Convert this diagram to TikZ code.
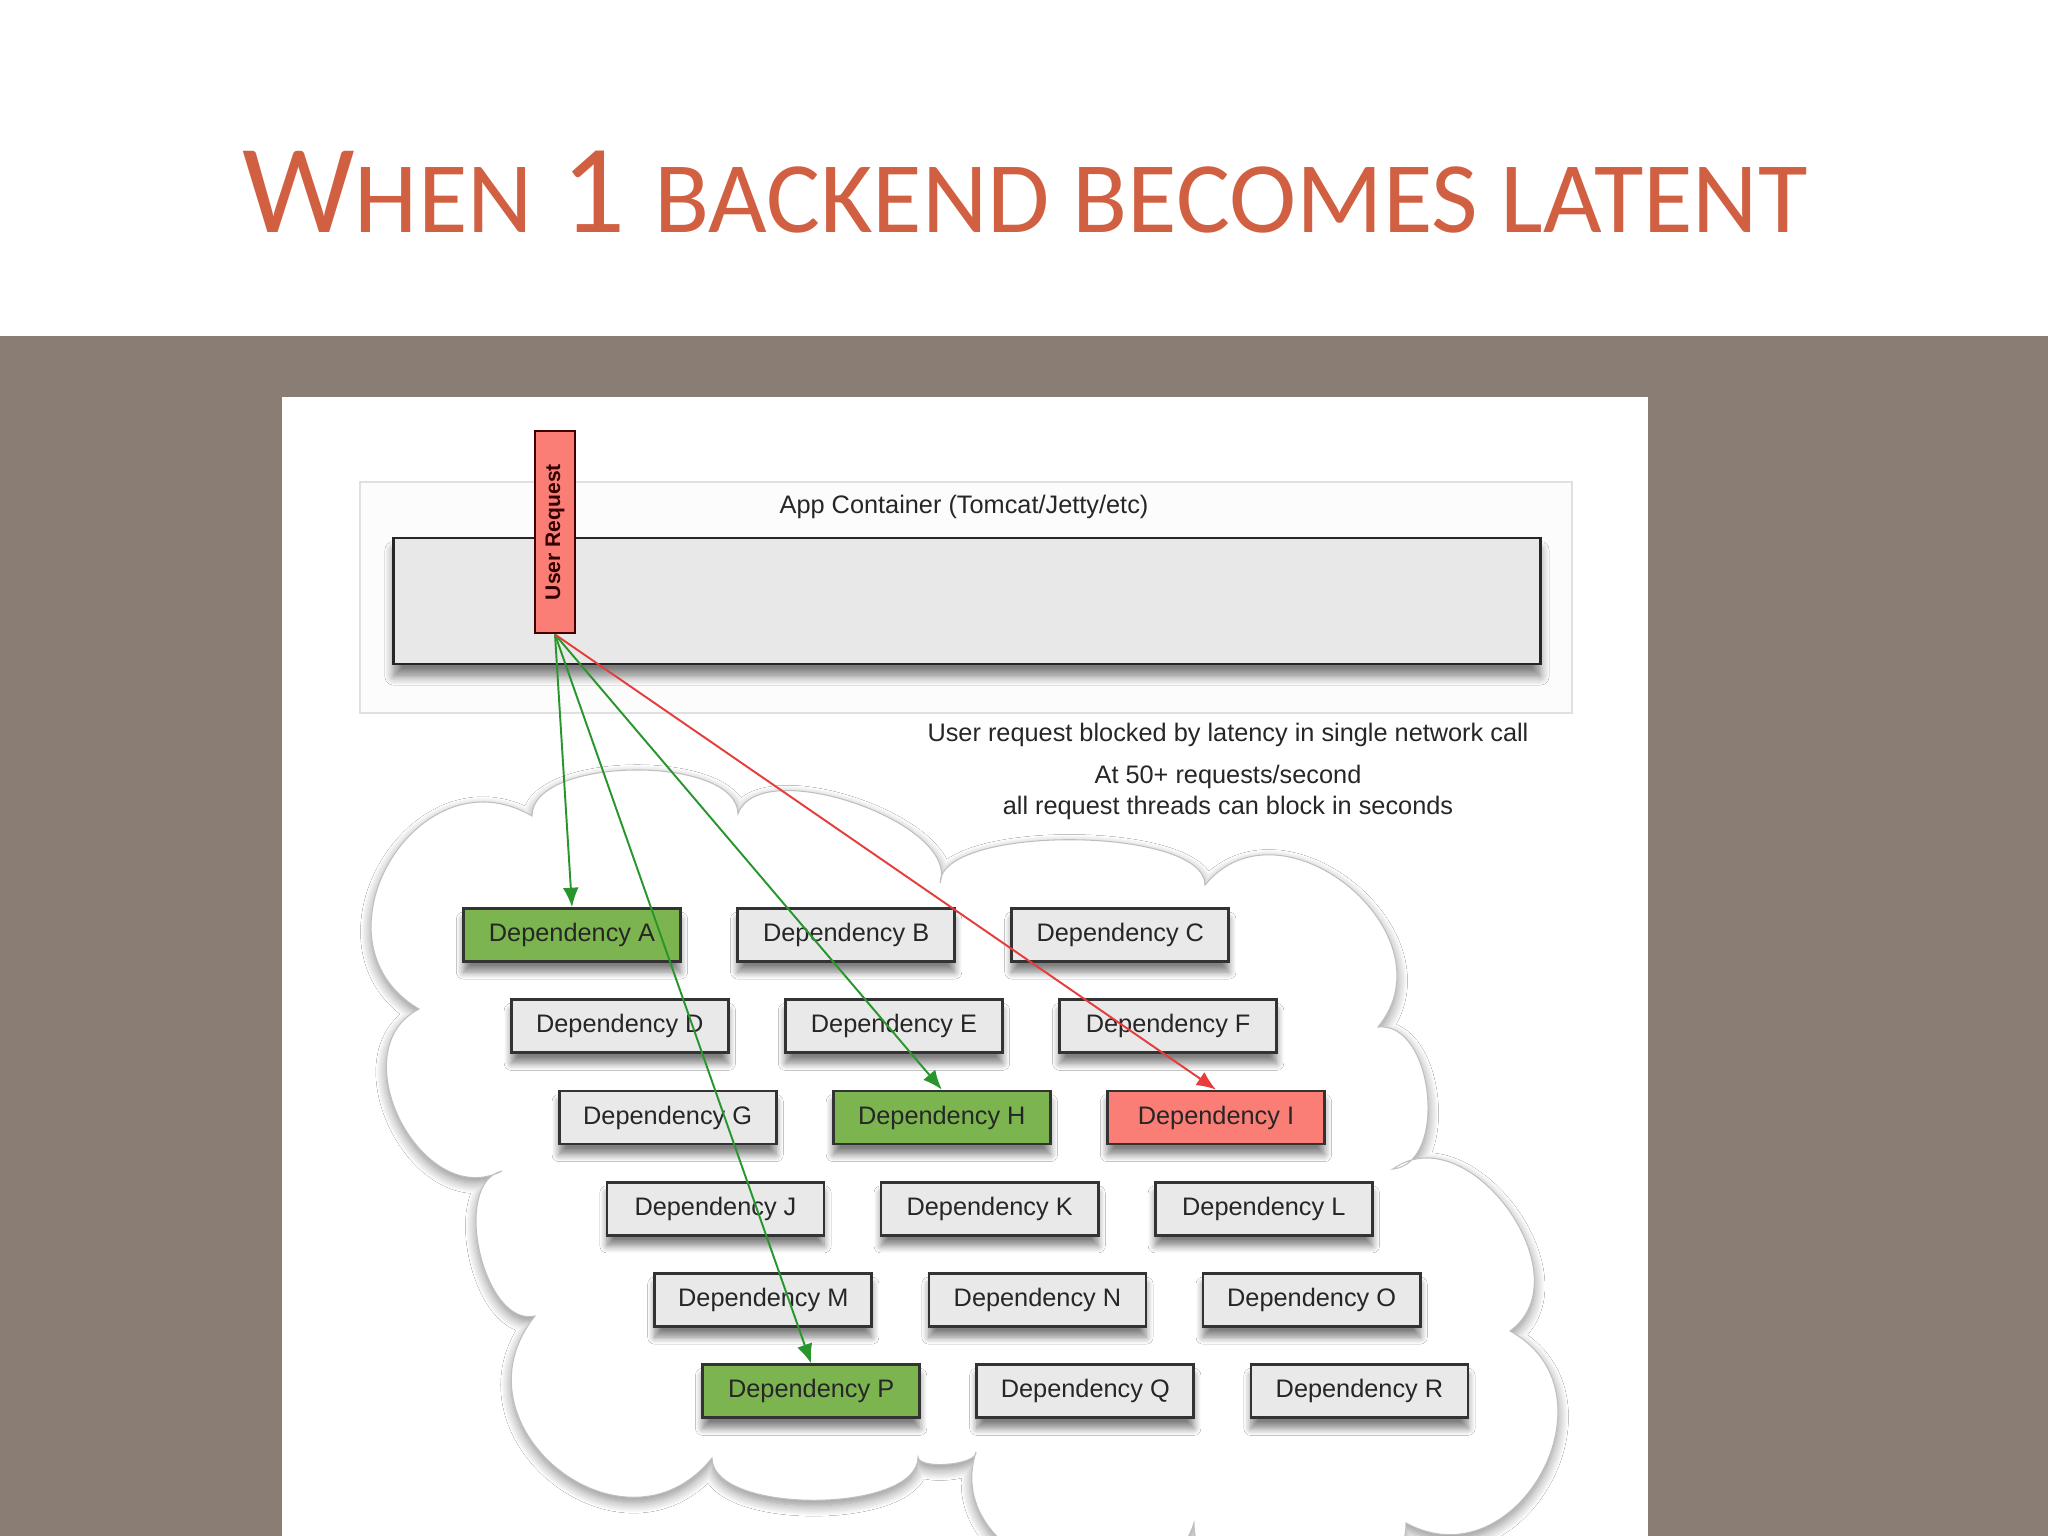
\documentclass[tikz,border=0pt]{standalone}
\usepackage{fontspec}
\setmainfont{Liberation Sans}
\newfontfamily\titlefont{Carlito}
\usetikzlibrary{arrows.meta,positioning,calc,shadows.blur}

\definecolor{slidegray}{RGB}{138,125,115}
\definecolor{titlered}{RGB}{209,96,66}
\definecolor{boxgray}{RGB}{233,233,233}
\definecolor{depgreen}{RGB}{124,181,80}
\definecolor{depred}{RGB}{250,125,118}
\definecolor{okline}{RGB}{40,150,45}
\definecolor{badline}{RGB}{230,60,60}

\begin{document}
\begin{tikzpicture}[x=0.01cm,y=-0.01cm,
  node distance=0.912cm and 2.74cm, on grid,
  lbl/.style={font=\fontsize{7.2}{8.8}\selectfont,text=black!85},
  dep/.style={draw=black!80,line width=0.8pt,fill=boxgray,minimum width=2.17cm,minimum height=0.53cm,inner sep=0pt,
    font=\fontsize{7.2}{8}\selectfont,text=black!85,
    blur shadow={shadow xshift=0pt,shadow yshift=-3pt,shadow blur radius=2pt,shadow blur steps=8,shadow opacity=50}},
  ok/.style={dep,fill=depgreen},
  hit/.style={dep,fill=depred},
  call/.style={-{Latex[length=5.5pt,width=4.5pt]},line width=0.55pt,draw=okline},
  lobe/.style={to path={.. controls ($(\tikztostart)!#1!90:(\tikztotarget)$) and ($(\tikztotarget)!#1!-90:(\tikztostart)$) .. (\tikztotarget)}}]
  \useasboundingbox (0,0) rectangle (2048,1536);
  % slide
  \fill[white] (0,0) rectangle (2048,336);
  \fill[slidegray] (0,336) rectangle (2048,1536);
  \fill[white] (282,397) rectangle (1648,1536);
  \node[font=\titlefont\fontsize{36}{40}\selectfont,text=titlered,anchor=base] (title) at (1025,232)
    {W{\fontsize{28.8}{30}\selectfont HEN} 1 {\fontsize{28.8}{30}\selectfont BACKEND BECOMES LATENT}};

  % app container
  \node[draw=black!12,fill=black!1,line width=0.6pt,minimum width=12.12cm,minimum height=2.31cm] (cont) at (966,597.5) {};
  \node[draw=black!85,fill=black!9,line width=0.8pt,minimum width=11.46cm,minimum height=1.26cm,
    blur shadow={shadow xshift=0pt,shadow yshift=-3.5pt,shadow blur radius=2.5pt,shadow blur steps=8,shadow opacity=50}] (app) at (967,601) {};
  \node[lbl] (apptxt) at (964,507) {App Container (Tomcat/Jetty/etc)};

  % dependency cloud
  \path[fill=white,draw=black!25,line width=0.3pt,
    blur shadow={shadow xshift=0pt,shadow yshift=-1.5pt,shadow blur radius=3pt,shadow blur steps=12,shadow opacity=45}]
    (532,816) to[lobe=0.60cm] (738,814) to[lobe=0.64cm] (940,883) to[lobe=0.59cm] (1205,885)
    to[lobe=1.2cm] (1378,1027) to[lobe=0.56cm] (1393,1169) to[lobe=0.93cm] (1510,1331)
    to[lobe=1.27cm] (1406,1523) to[lobe=1.07cm] (1194,1523) to[lobe=1.2cm] (976,1452)
    to[lobe=0.13cm] (918,1457) to[lobe=0.57cm] (712,1458) to[lobe=1.4cm] (535,1316)
    to[lobe=0.53cm] (502,1171) to[lobe=0.9cm] (419,1009) to[lobe=1.33cm] (532,816) -- cycle;

  \node[draw=black!75!red,fill=depred,line width=0.8pt,rotate=90,minimum width=2.02cm,minimum height=0.40cm,inner sep=0pt,
    font=\bfseries\fontsize{6}{7}\selectfont,text=black!80!red] (req) at (555,532) {User Request};

  \node[lbl] (blocked) at (1228,735) {User request blocked by latency in single network call};
  \node[lbl,align=center] (rate) at (1228,792) {At 50+ requests/second\\all request threads can block in seconds};

  \node[ok] (A) at (572,935) {Dependency A};
  \node[dep, right=of A] (B) {Dependency B};
  \node[dep, right=of B] (C) {Dependency C};
  \node[dep, below=of A, xshift=0.478cm] (D) {Dependency D};
  \node[dep, right=of D] (E) {Dependency E};
  \node[dep, right=of E] (F) {Dependency F};
  \node[dep, below=of D, xshift=0.478cm] (G) {Dependency G};
  \node[ok, right=of G] (H) {Dependency H};
  \node[hit, right=of H] (I) {Dependency I};
  \node[dep, below=of G, xshift=0.478cm] (J) {Dependency J};
  \node[dep, right=of J] (K) {Dependency K};
  \node[dep, right=of K] (L) {Dependency L};
  \node[dep, below=of J, xshift=0.478cm] (M) {Dependency M};
  \node[dep, right=of M] (N) {Dependency N};
  \node[dep, right=of N] (O) {Dependency O};
  \node[ok, below=of M, xshift=0.478cm] (P) {Dependency P};
  \node[dep, right=of P] (Q) {Dependency Q};
  \node[dep, right=of Q] (R) {Dependency R};

  \draw[call] (req.west) -- (A.north);
  \draw[call] (req.west) -- (P.north);
  \draw[call] (req.west) -- (H.north);
  \draw[call,draw=badline] (req.west) -- (I.north);
\end{tikzpicture}
\end{document}
